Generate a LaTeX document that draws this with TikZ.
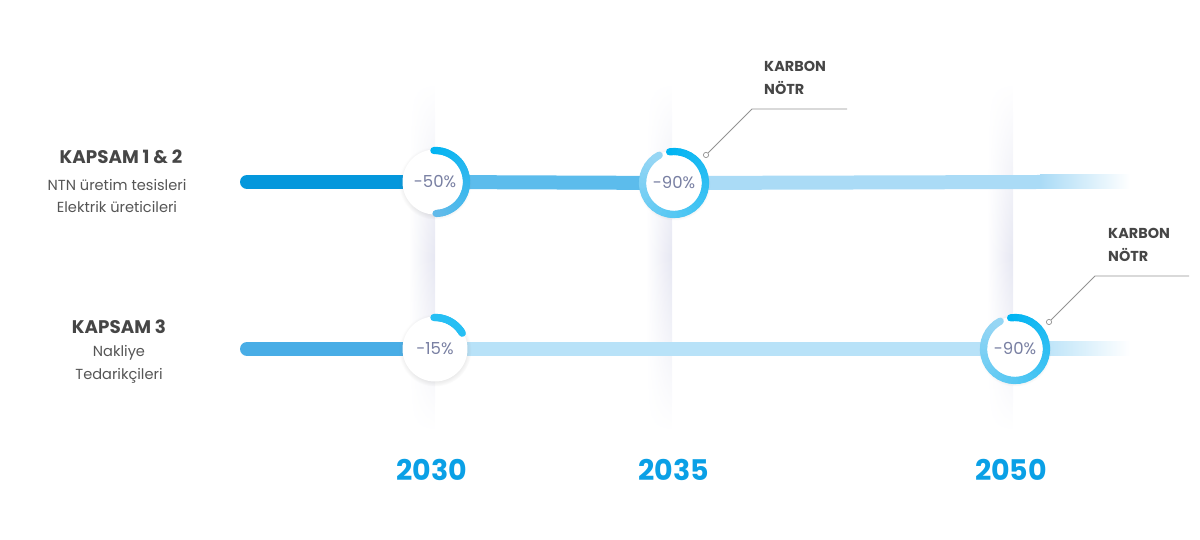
\documentclass[tikz,border=0pt]{standalone}
\usepackage{fontspec}
\setmainfont{Poppins}
\usetikzlibrary{calc, shadows, fadings}
\definecolor{bardark}{RGB}{4,151,220}
\definecolor{barmid}{RGB}{92,188,236}
\definecolor{barlight}{RGB}{170,219,246}
\definecolor{barrow}{RGB}{72,173,230}
\definecolor{barpale}{RGB}{184,226,248}
\definecolor{ringbright}{RGB}{0,180,242}
\definecolor{ringsoft}{RGB}{96,186,234}
\definecolor{ringpale}{RGB}{150,214,244}
\definecolor{pctgray}{RGB}{120,127,162}
\definecolor{textgray}{RGB}{70,70,70}
\definecolor{subgray}{RGB}{85,85,85}
\definecolor{yearblue}{RGB}{10,160,230}
\definecolor{colgray}{RGB}{230,231,242}

\tikzfading[name=colfade, top color=transparent!100, bottom color=transparent!100, middle color=transparent!0]

\tikzset{
  bar/.style={line width=0.28cm},
  ring/.style={line width=0.145cm, line cap=round},
  disc/.style={circle, fill=white, minimum size=1.3cm, inner sep=0pt,
    circular drop shadow={shadow xshift=0pt, shadow yshift=-0.6pt, shadow scale=1.12, opacity=0.16},
    text=pctgray, font=\fontsize{9.4}{11}\selectfont},
  scopetitle/.style={text=textgray, font=\fontsize{10.4}{12}\selectfont\bfseries},
  scopesub/.style={text=subgray, align=center, font=\fontsize{8.3}{13}\selectfont},
  year/.style={text=yearblue, font=\fontsize{16.2}{20}\selectfont\bfseries},
  karbon/.style={text=textgray, align=left, anchor=west, font=\fontsize{8.2}{13}\selectfont\bfseries},
  leader/.style={draw=gray!85, line width=0.5pt},
  dot/.style={circle, draw=gray!85, fill=white, line width=0.4pt, minimum size=3pt, inner sep=0pt}
}

% gradient ring: centre, start angle, end angle, start colour, end colour
\newcommand\gradring[5]{%
  \foreach \k in {0,...,35}{%
    \pgfmathsetmacro\angA{#2+(#3-#2)*\k/36}%
    \pgfmathsetmacro\angB{#2+(#3-#2)*(\k+1)/36}%
    \pgfmathtruncatemacro\ringmix{100-100*\k/35}%
    \draw[ring, color=#4!\ringmix!#5] ($(#1)+(\angA:31.5)$) arc[start angle=\angA, end angle=\angB, radius=31.5];
  }%
}

\begin{document}
\begin{tikzpicture}[x=0.02cm, y=0.02cm]
\useasboundingbox (0,0) rectangle (1200,540);

% year columns
\foreach \cx in {435,672,1013}{
  \shade[left color=white, right color=colgray, path fading=colfade] (\cx-26,108) rectangle (\cx,458);
}

% centres of the milestones
\coordinate (c1) at (435,358);
\coordinate (c2) at (674,357);
\coordinate (c3) at (435,191);
\coordinate (c4) at (1015,191);
\coordinate (s1) at (247,358);
\coordinate (s2) at (247,191);
\coordinate (f1) at (1040,358);
\coordinate (f2) at (1040,191);

% bars
\draw[bar, bardark, line cap=round] (s1) -- (c1);
\draw[bar, barmid] (c1) -- (c2);
\draw[bar, barlight] (c2) -- (f1);
\shade[left color=barlight, right color=white] ($(f1)+(0,-7)$) rectangle (1130,365);

\draw[bar, barrow, line cap=round] (s2) -- (c3);
\draw[bar, barpale] (c3) -- (c4);
\draw[bar, barpale] (c4) -- (f2);
\shade[left color=barpale, right color=white] ($(f2)+(0,-7)$) rectangle (1130,198);

% milestones
\node[disc] (m1) at (c1) {-50\%};
\node[disc] (m2) at (c2) {-90\%};
\node[disc] (m3) at (c3) {-15\%};
\node[disc] (m4) at (c4) {-90\%};

\gradring{c1}{92}{-88}{ringbright}{ringsoft}
\gradring{c2}{98}{-242}{ringbright}{ringpale}
\gradring{c3}{92}{30}{ringbright}{ringbright!85!white}
\gradring{c4}{98}{-242}{ringbright}{ringpale}

% carbon neutral callouts
\node[dot] (k1) at (706,385) {};
\coordinate (k1b) at (752,431);
\coordinate (k1e) at (847,431);
\draw[leader] (k1) -- (k1b) -- (k1e);
\node[karbon] (t1) at (758,462) {KARBON\\NÖTR};

\node[dot] (k2) at (1049,218) {};
\coordinate (k2b) at (1095,264);
\coordinate (k2e) at (1189,264);
\draw[leader] (k2) -- (k2b) -- (k2e);
\node[karbon] (t2) at (1102,295) {KARBON\\NÖTR};

% scope labels
\node[scopetitle] (h1) at (121,383) {KAPSAM 1 \& 2};
\node[scopesub] (d1) at (117,344) {NTN üretim tesisleri\\Elektrik üreticileri};
\node[scopetitle] (h2) at (119,213) {KAPSAM 3};
\node[scopesub] (d2) at (119,176) {Nakliye\\Tedarikçileri};

% years
\node[year] (y1) at (432,70) {2030};
\node[year] (y2) at (674,70) {2035};
\node[year] (y3) at (1011,70) {2050};
\end{tikzpicture}
\end{document}
